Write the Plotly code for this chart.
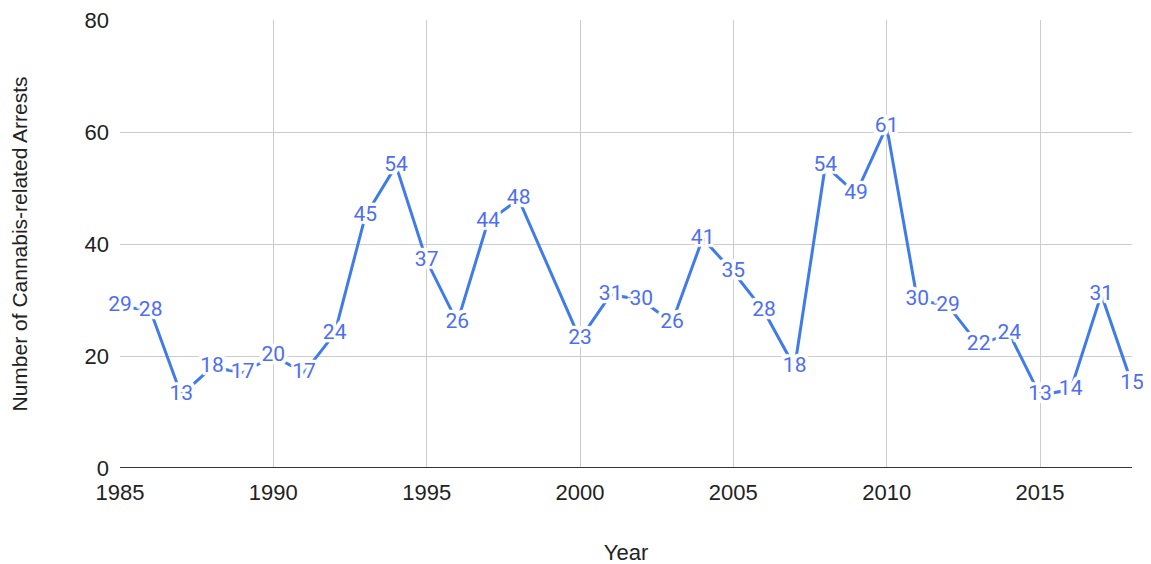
import plotly.graph_objects as go

years = [1985, 1986, 1987, 1988, 1989, 1990, 1991, 1992, 1993, 1994, 1995, 1996, 1997, 1998,
         2000, 2001, 2002, 2003, 2004, 2005, 2006, 2007, 2008, 2009, 2010, 2011, 2012, 2013,
         2014, 2015, 2016, 2017, 2018]
arrests = [29, 28, 13, 18, 17, 20, 17, 24, 45, 54, 37, 26, 44, 48,
           23, 31, 30, 26, 41, 35, 28, 18, 54, 49, 61, 30, 29, 22,
           24, 13, 14, 31, 15]
x_ticks = [1985, 1990, 1995, 2000, 2005, 2010, 2015]
y_ticks = [0, 20, 40, 60, 80]

offs = []
for dx in (-3, -2, 0, 2, 3):
    for dy in (-3, -2, 0, 2, 3):
        if dx or dy:
            offs.append(f"{dx}px {dy}px 1px white")
halo = ", ".join(offs)

AX_FONT = "Liberation Sans, Arial, sans-serif"

fig = go.Figure()
fig.add_trace(go.Scatter(
    x=years, y=arrests, mode="lines+text",
    text=[str(v) for v in arrests], textposition="middle center",
    textfont=dict(family="Roboto, Arial, sans-serif", size=21, color="#4d6ef3", shadow=halo),
    line=dict(color="#3f7be9", width=3),
    hoverinfo="skip", showlegend=False, cliponaxis=False,
))

fig.update_layout(
    width=1151, height=564,
    margin=dict(l=112, r=27, t=12, b=104, autoexpand=False),
    paper_bgcolor="white", plot_bgcolor="white",
    font=dict(family=AX_FONT, size=22, color="#222222"),
    xaxis=dict(
        range=[1985, 2018], tickvals=x_ticks, ticktext=[str(t) for t in x_ticks],
        showgrid=True, gridcolor="#cccccc", gridwidth=1, zeroline=False,
        showline=False, ticks="", ticklabelstandoff=9, ticklabeloverflow="allow",
        tickfont=dict(family=AX_FONT, size=22, color="#222222"),
        title=dict(text="Year", font=dict(family=AX_FONT, size=22, color="#222222"), standoff=40),
    ),
    yaxis=dict(
        range=[0, 80], tickvals=y_ticks, showgrid=True, gridcolor="#cccccc", gridwidth=1,
        zeroline=False, showline=False, ticks="", ticklabelstandoff=10, ticklabeloverflow="allow",
        tickfont=dict(family=AX_FONT, size=22, color="#222222"),
        title=dict(text="Number of Cannabis-related Arrests",
                   font=dict(family=AX_FONT, size=21, color="#222222"), standoff=52),
    ),
    shapes=[dict(type="line", xref="paper", yref="y", x0=0, x1=1, y0=0, y1=0,
                 line=dict(color="#333333", width=2))],
)

fig.write_html("out.html")
